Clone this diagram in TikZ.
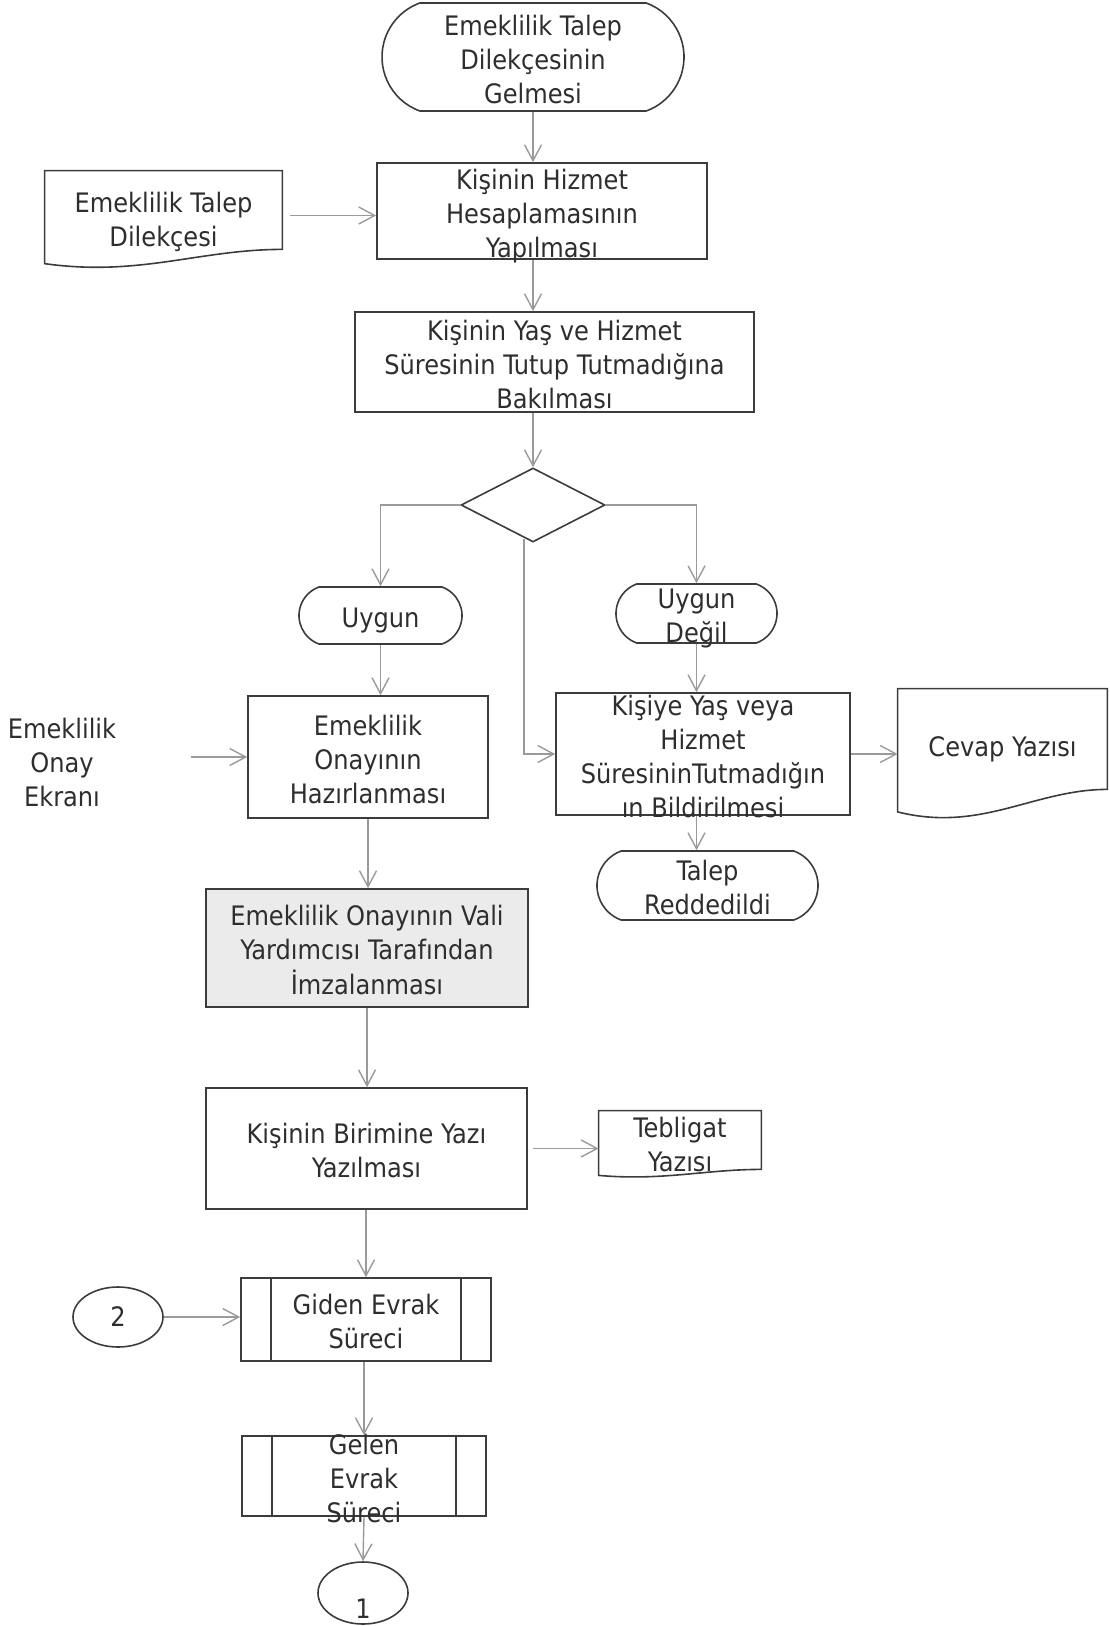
\documentclass[tikz,border=0pt]{standalone}
\usepackage{fontspec}
\setmainfont{DejaVu Sans Condensed}
\usetikzlibrary{shapes.geometric,shapes.misc,arrows.meta,calc}

\definecolor{linegray}{HTML}{9A9A9A}
\definecolor{edgegray}{HTML}{3C3C3C}
\definecolor{fillgray}{HTML}{EBEBEB}
\definecolor{inkgray}{HTML}{2E2E2E}

% text of a box, kept out of the box size
\newcommand{\txt}[2][0pt]{\smash{\raisebox{\dimexpr#1-0.25em-3pt\relax}{\begin{tabular}{@{}c@{}}#2\end{tabular}}}}
% document outline with wavy bottom: node name, rise on the right
\newcommand{\docshape}[2]{\draw[boxline] ([yshift=0.25*#2]#1.south west) -- (#1.north west) -- (#1.north east) -- ([yshift=#2]#1.south east)
  .. controls ($(#1.south east)!0.35!(#1.south west)+(0pt,#2)$) and ($(#1.south east)!0.6!(#1.south west)+(0pt,-0.45*#2)$) .. ([yshift=0.25*#2]#1.south west) -- cycle;}

\begin{document}
\begin{tikzpicture}[x=0.5pt,y=-0.5pt,font=\fontsize{13.4}{17}\selectfont,text=inkgray,
  proc/.style={rectangle,draw=edgegray,line width=0.8pt,inner sep=0pt},
  term/.style={rounded rectangle,rounded rectangle arc length=140,draw=edgegray,line width=0.8pt,inner sep=0pt},
  doc/.style={rectangle,inner sep=0pt},
  decision/.style={diamond,draw=edgegray,line width=0.8pt,inner sep=0pt},
  conn/.style={ellipse,draw=edgegray,line width=0.8pt,inner sep=0pt},
  boxline/.style={draw=edgegray,line width=0.8pt},
  flow/.style={draw=linegray,line width=0.7pt,-{Straight Barb[length=8pt,width=8.5pt]}}]
    \useasboundingbox (0,0) rectangle (1109,1626);

    \node[term,minimum width=151pt,minimum height=54pt] (start) at (533,57) {\txt{Emeklilik Talep\\Dilekçesinin\\Gelmesi}};
    \node[doc,minimum width=118.5pt,minimum height=48.5pt] (dilekce) at (163.5,219.5) {\txt[1pt]{Emeklilik Talep\\Dilekçesi}};
    \docshape{dilekce}{9.5pt}
    \node[proc,minimum width=165pt,minimum height=48pt] (hesap) at (542,211) {\txt{Kişinin Hizmet\\Hesaplamasının\\Yapılması}};
    \node[proc,minimum width=199.5pt,minimum height=50pt] (bakim) at (554.5,362) {\txt{Kişinin Yaş ve Hizmet\\Süresinin Tutup Tutmadığına\\Bakılması}};
    \node[decision,minimum width=72pt,minimum height=37pt] (karar) at (533,505) {};
    \coordinate (ayrim) at (524,539);

    \node[term,minimum width=81.5pt,minimum height=28.5pt] (uygun) at (380.5,615.5) {\txt{Uygun}};
    \node[term,minimum width=80.5pt,minimum height=29.5pt] (degil) at (696.5,613.5) {\txt{Uygun\\Değil}};

    \node[align=center] (ekran) at (62,763) {Emeklilik\\Onay\\Ekranı};
    \node[proc,minimum width=120pt,minimum height=61pt] (onay) at (368,757) {\txt{Emeklilik\\Onayının\\Hazırlanması}};
    \node[proc,minimum width=147pt,minimum height=61pt] (bildir) at (703,754) {\txt{Kişiye Yaş veya\\Hizmet\\SüresininTutmadığın\\ın Bildirilmesi}};
    \node[doc,minimum width=104.5pt,minimum height=65pt] (cevap) at (1002.5,754) {\txt[5pt]{Cevap Yazısı}};
    \docshape{cevap}{15pt}
    \node[term,minimum width=110.5pt,minimum height=34.5pt] (red) at (707.5,885.5) {\txt{Talep\\Reddedildi}};

    \node[proc,fill=fillgray,minimum width=161pt,minimum height=59pt] (imza) at (367,948) {\txt{Emeklilik Onayının Vali\\Yardımcısı Tarafından\\İmzalanması}};
    \node[proc,minimum width=160.5pt,minimum height=60.5pt] (birim) at (366.5,1148.5) {\txt{Kişinin Birimine Yazı\\Yazılması}};
    \node[doc,minimum width=81pt,minimum height=33pt] (teblig) at (680,1144) {\txt[1pt]{Tebligat\\Yazısı}};
    \docshape{teblig}{4pt}

    \node[proc,minimum width=125pt,minimum height=41.5pt] (giden) at (366,1319.5) {\txt{Giden Evrak\\Süreci}};
    \node[conn,minimum width=45pt,minimum height=30pt] (iki) at (118,1317) {2};
    \node[proc,minimum width=122pt,minimum height=40pt] (gelen) at (364,1476) {\txt{Gelen\\Evrak\\Süreci}};
    \node[conn,minimum width=45pt,minimum height=31pt] (bir) at (363,1593) {\smash{\raisebox{-12.5pt}{1}}};
    \foreach \p in {giden,gelen}{
      \draw[boxline] ([xshift=15.5pt]\p.north west) -- ([xshift=15.5pt]\p.south west);
      \draw[boxline] ([xshift=-15.5pt]\p.north east) -- ([xshift=-15.5pt]\p.south east);
    }

    \draw[flow] (start.south) -- (start.south |- hesap.north);
    \draw[flow,shorten <=4pt] ([yshift=2pt]dilekce.east) -- ([yshift=2pt]dilekce.east -| hesap.west);
    \draw[flow] (hesap.south -| start) -- (bakim.north -| start);
    \draw[flow] (bakim.south -| karar) -- (karar.north);
    \draw[flow] (karar.west) -| (uygun.north);
    \draw[flow] (karar.east) -| (degil.north);
    \draw[flow] (ayrim) |- (bildir.west);
    \draw[flow] (uygun.south) -- (uygun.south |- onay.north);
    \draw[flow,shorten <=34pt] (ekran.east |- onay.west) -- (onay.west);
    \draw[flow] (degil.south) -- (degil.south |- bildir.north);
    \draw[flow] (bildir.south -| degil) -- (red.north -| degil);
    \draw[flow] (bildir.east) -- (bildir.east -| cevap.west);
    \draw[flow] (onay.south) -- (onay.south |- imza.north);
    \draw[flow] (imza.south) -- (imza.south |- birim.north);
    \draw[flow,shorten <=2.5pt] (birim.east) -- (birim.east -| teblig.west);
    \draw[flow] (birim.south -| giden) -- (giden.north);
    \draw[flow] (iki.east) -- (iki.east -| giden.west);
    \draw[flow] (giden.south -| gelen) -- (gelen.north);
    \draw[flow] (gelen.south) -- (bir.north);
\end{tikzpicture}
\end{document}
